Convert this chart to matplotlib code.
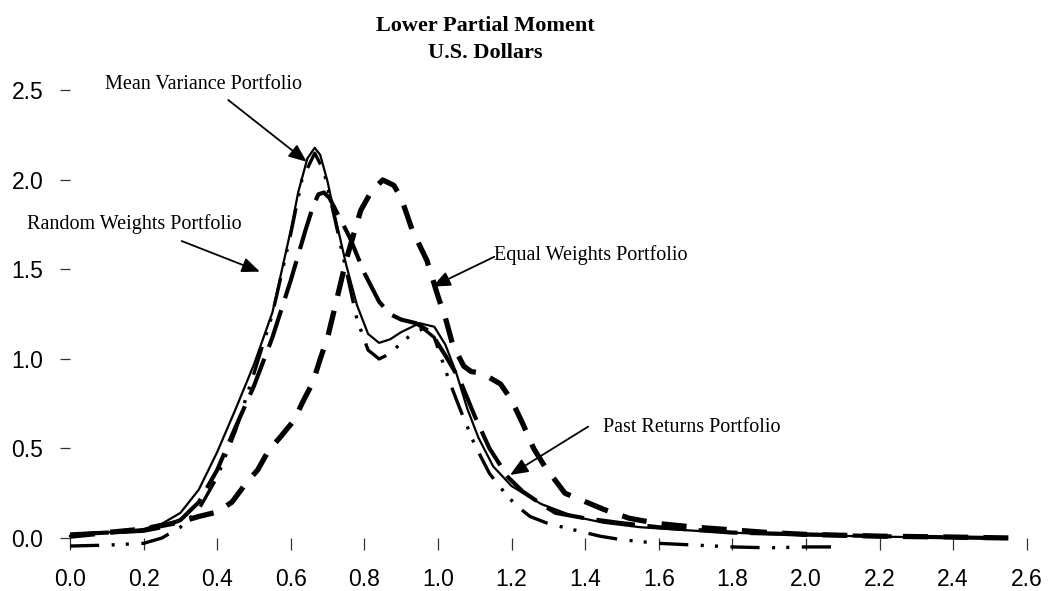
import matplotlib
matplotlib.use('Agg')
import matplotlib.pyplot as plt

# values
mv_x = [0.0, 0.1, 0.2, 0.25, 0.3, 0.35, 0.4, 0.45, 0.5, 0.55, 0.6, 0.62, 0.645, 0.665, 0.68, 0.7,
        0.72, 0.75, 0.78, 0.81, 0.84, 0.87, 0.9, 0.95, 0.99, 1.02, 1.05, 1.08, 1.11, 1.15, 1.2,
        1.28, 1.37, 1.45, 1.55, 1.7, 1.85, 2.0, 2.2, 2.4]
mv_y = [0.01, 0.03, 0.05, 0.08, 0.14, 0.27, 0.48, 0.72, 0.97, 1.26, 1.72, 1.93, 2.12, 2.18, 2.14, 1.99,
        1.80, 1.53, 1.30, 1.14, 1.09, 1.11, 1.15, 1.20, 1.18, 1.08, 0.92, 0.72, 0.56, 0.40, 0.29,
        0.19, 0.12, 0.085, 0.06, 0.04, 0.025, 0.015, 0.008, 0.0]

pr_x = [0.0, 0.1, 0.2, 0.25, 0.3, 0.35, 0.4, 0.45, 0.5, 0.55, 0.6, 0.64, 0.66, 0.675, 0.69, 0.705,
        0.72, 0.76, 0.8, 0.84, 0.87, 0.9, 0.94, 0.98, 1.02, 1.06, 1.1, 1.14, 1.19, 1.23, 1.28,
        1.32, 1.4, 1.49, 1.6, 1.7, 1.8, 2.0, 2.2, 2.5]
pr_y = [0.02, 0.03, 0.04, 0.06, 0.1, 0.2, 0.38, 0.62, 0.85, 1.12, 1.44, 1.72, 1.85, 1.92, 1.93, 1.9,
        1.84, 1.68, 1.48, 1.32, 1.25, 1.22, 1.2, 1.15, 1.02, 0.88, 0.68, 0.5, 0.34, 0.26, 0.19,
        0.14, 0.11, 0.085, 0.06, 0.045, 0.03, 0.02, 0.01, 0.0]

ew_x = [0.0, 0.1, 0.2, 0.25, 0.3, 0.35, 0.4, 0.44, 0.48, 0.51, 0.54, 0.57, 0.61, 0.63, 0.66, 0.68,
        0.7, 0.72, 0.75, 0.79, 0.82, 0.85, 0.88, 0.9, 0.93, 0.97, 1.0, 1.02, 1.04, 1.07, 1.09,
        1.12, 1.17, 1.2, 1.23, 1.26, 1.29, 1.345, 1.45, 1.52, 1.6, 1.7, 1.8, 1.9, 2.0, 2.2, 2.4,
        2.55]
ew_y = [0.01, 0.03, 0.05, 0.07, 0.09, 0.12, 0.145, 0.2, 0.31, 0.38, 0.49, 0.56, 0.66, 0.75, 0.87, 1.0,
        1.12, 1.29, 1.55, 1.83, 1.94, 2.0, 1.97, 1.9, 1.72, 1.55, 1.35, 1.23, 1.08, 0.96, 0.93,
        0.92, 0.86, 0.77, 0.64, 0.5, 0.4, 0.25, 0.16, 0.11, 0.08, 0.06, 0.045, 0.03, 0.02, 0.01,
        0.005, 0.0]

rw_x = [0.0, 0.1, 0.15, 0.2, 0.25, 0.3, 0.35, 0.4, 0.45, 0.5, 0.55, 0.6, 0.63, 0.665, 0.69, 0.72,
        0.75, 0.78, 0.81, 0.84, 0.87, 0.9, 0.93, 0.96, 0.99, 1.03, 1.06, 1.1, 1.14, 1.19, 1.22,
        1.25, 1.3, 1.37, 1.44, 1.5, 1.6, 1.7, 1.8, 1.9, 2.0, 2.1]
rw_y = [-0.045, -0.04, -0.035, -0.03, 0.0, 0.06, 0.16, 0.34, 0.6, 0.92, 1.25, 1.7, 2.0, 2.15, 2.05, 1.78,
        1.5, 1.22, 1.05, 1.0, 1.03, 1.09, 1.14, 1.17, 1.12, 0.88, 0.72, 0.52, 0.36, 0.23, 0.17,
        0.12, 0.08, 0.045, 0.01, -0.01, -0.03, -0.04, -0.05, -0.055, -0.05, -0.05]

x_ticks = [0.0, 0.2, 0.4, 0.6, 0.8, 1.0, 1.2, 1.4, 1.6, 1.8, 2.0, 2.2, 2.4, 2.6]
y_ticks = [0.0, 0.5, 1.0, 1.5, 2.0, 2.5]

plt.rcParams['lines.scale_dashes'] = False

fig = plt.figure(figsize=(10.48, 5.91), dpi=100)
ax = fig.add_axes([0.05977, 0.06853, 0.92700, 0.79349])

ax.plot(mv_x, mv_y, color='black', lw=1.6, solid_joinstyle='round')
ax.plot(pr_x, pr_y, color='black', lw=3.0, dashes=(28, 9))
ax.plot(ew_x, ew_y, color='black', lw=3.8, dashes=(18, 11))
ax.plot(rw_x, rw_y, color='black', lw=2.4, dashes=(21, 9, 2.2, 8, 2.2, 9))

ax.set_xlim(-0.02, 2.62)
ax.set_ylim(-0.07, 2.55)

# axes lines are hidden, only the ticks remain at the origin
for side in ['top', 'right', 'bottom', 'left']:
    ax.spines[side].set_color('none')
ax.spines['bottom'].set_position(('data', 0))
ax.spines['left'].set_position(('data', 0))

ax.set_xticks(x_ticks)
ax.set_yticks(y_ticks)
ax.set_xticklabels([f'{t:.1f}' for t in x_ticks])
ax.set_yticklabels([f'{t:.1f}' for t in y_ticks])
ax.tick_params(axis='x', direction='out', length=8.5, width=0.9, color='#333333', pad=13,
               labelsize=16.5)
ax.tick_params(axis='y', direction='out', length=7.2, width=0.9, color='#333333', pad=12,
               labelsize=16.5)
for lab in ax.get_xticklabels() + ax.get_yticklabels():
    lab.set_family('Liberation Sans')

# title, two lines
fig.text(0.4628, 0.948, 'Lower Partial Moment', ha='center', va='baseline',
         family='Liberation Serif', weight='bold', fontsize=16)
fig.text(0.4628, 0.9014, 'U.S. Dollars', ha='center', va='baseline',
         family='Liberation Serif', weight='bold', fontsize=16)

# labels with arrows
labels = [
    ('Mean Variance Portfolio', (0.0951, 2.508), (0.430, 2.447), (0.643, 2.102)),
    ('Random Weights Portfolio', (-0.1177, 1.7246), (0.3035, 1.659), (0.516, 1.488)),
    ('Equal Weights Portfolio', (1.153, 1.553), (1.153, 1.571), (0.985, 1.404)),
    ('Past Returns Portfolio', (1.4476, 0.594), (1.408, 0.622), (1.196, 0.352)),
]
for text, pos, start, tip in labels:
    ax.text(pos[0], pos[1], text, ha='left', va='baseline', family='Liberation Serif',
            fontsize=14.5, clip_on=False)
    ax.annotate('', xy=tip, xytext=start, annotation_clip=False,
                arrowprops=dict(arrowstyle='-|>,head_length=0.6,head_width=0.25',
                                color='black', lw=1.3, shrinkA=0, shrinkB=0,
                                mutation_scale=18))

fig.savefig('out.png', dpi=100)
